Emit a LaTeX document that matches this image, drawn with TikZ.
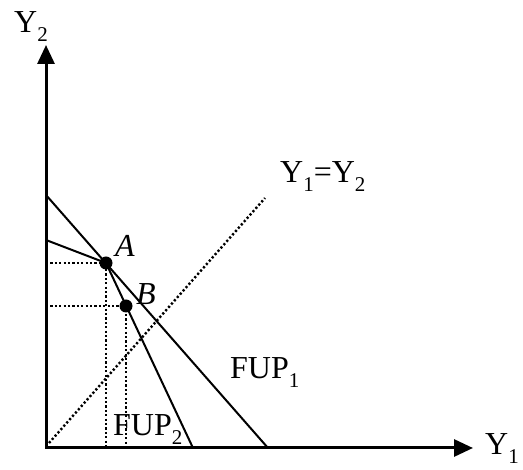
\documentclass[tikz,border=0pt]{standalone}
\usepackage{fontspec}
\setmainfont{Liberation Serif}
\usetikzlibrary{arrows.meta}
\newcommand{\lsub}[1]{\raisebox{-9pt}{\fontsize{21}{21}\selectfont #1}}
\begin{document}
\begin{tikzpicture}[x=1pt,y=-1pt,
  axis/.style={line width=3pt,{Triangle[width=17pt,length=19pt]}-{Triangle[width=17pt,length=19pt]}},
  curve/.style={line width=2pt},
  guide/.style={line width=2.4pt,dash pattern=on 2.2pt off 2.2pt},
  dot/.style={circle,fill=black,inner sep=0pt,minimum size=13pt},
  lbl/.style={font=\fontsize{32}{34}\selectfont,inner sep=0pt}]
\useasboundingbox (0,0) rectangle (523,470);
\coordinate (O) at (46,448);
\coordinate (ytip) at (46,45);
\coordinate (xtip) at (473,448);
\coordinate (p1top) at (46,195);
\coordinate (p1bot) at (268,448);
\coordinate (p2top) at (46,240);
\coordinate (p2bot) at (193,448);
\coordinate (Ay) at (46,263);
\coordinate (Ax) at (106,448);
\coordinate (By) at (46,306);
\coordinate (Bx) at (126,448);
\coordinate (d0) at (49,443);
\coordinate (d1) at (265,198);
\node[dot] (A) at (106,263) {};
\node[dot] (B) at (126,306) {};
% guides
\draw[guide] (Ay) -- (A.center) -- (Ax);
\draw[guide] (By) -- (B.center) -- (Bx);
\draw[guide] (d0) -- (d1);
% frontiers
\draw[curve] (p1top) -- (p1bot);
\draw[curve] (p2top) -- (A.center) -- (p2bot);
% axes
\draw[axis] (ytip) -- (O) -- (xtip);
% labels
\node[lbl,anchor=base west] (ly2) at (14,33) {Y\lsub{2}};
\node[lbl,anchor=base west] (ly1) at (485,455) {Y\lsub{1}};
\node[lbl,anchor=base west] (ldiag) at (280,183) {Y\lsub{1}=Y\lsub{2}};
\node[lbl,anchor=base west] (lf1) at (230,379) {FUP\lsub{1}};
\node[lbl,anchor=base west] (lf2) at (113,436) {FUP\lsub{2}};
\node[lbl] (la) at (125,246) {\itshape A};
\node[lbl] (lb) at (146,294) {\itshape B};
\end{tikzpicture}
\end{document}
